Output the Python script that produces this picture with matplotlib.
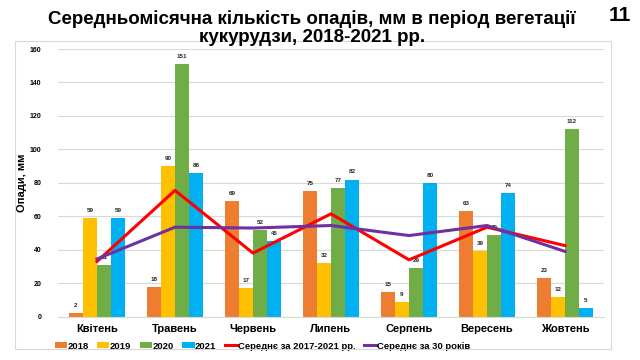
import numpy as np
import matplotlib.pyplot as plt
from matplotlib.patches import Rectangle, Patch
from matplotlib.lines import Line2D

plt.rcParams['font.family'] = ['Liberation Sans', 'DejaVu Sans']
plt.rcParams['font.weight'] = 'bold'

months = ['Квітень', 'Травень', 'Червень', 'Липень', 'Серпень', 'Вересень', 'Жовтень']
y2018 = [2, 18, 69, 75, 15, 63, 23]
y2019 = [59, 90, 17, 32, 9, 39, 12]
y2020 = [31, 151, 52, 77, 29, 49, 112]
y2021 = [59, 86, 45, 82, 80, 74, 5]
avg_2017_2021 = [33, 75.5, 38, 61.5, 34, 53.5, 42.5]
avg_30 = [34.5, 53.5, 53, 54.5, 48.5, 54.5, 39]

series = [('2018', y2018, '#ED7D31'), ('2019', y2019, '#FFC000'),
          ('2020', y2020, '#70AD47'), ('2021', y2021, '#00B0F0')]

fig = plt.figure(figsize=(6.4, 3.6), dpi=100)
fig.patches.append(Rectangle((15 / 640, 1 - 349 / 360), 596 / 640, 308 / 360,
                             transform=fig.transFigure, fill=False,
                             edgecolor='#D9D9D9', lw=0.8))
ax = fig.add_axes([58 / 640, 1 - 316.7 / 360, 546 / 640, 267.7 / 360])

x = np.arange(len(months))
w = 0.18
handles = []
for i, (name, vals, col) in enumerate(series):
    pos = x + (i - 1.5) * w
    ax.bar(pos, vals, w, color=col, zorder=2)
    handles.append(Patch(facecolor=col, label=name))
    for p, v in zip(pos, vals):
        ax.text(p, v + 3, str(v), ha='center', va='bottom', fontsize=4.5, color='#262626')

ax.plot(x, avg_2017_2021, color='#FF0000', lw=2.2, zorder=3)
ax.plot(x, avg_30, color='#7030A0', lw=2.2, zorder=3)
handles.append(Line2D([], [], color='#FF0000', lw=2.2, label='Середнє за 2017-2021 рр.'))
handles.append(Line2D([], [], color='#7030A0', lw=2.2, label='Середнє за 30 років'))

ax.set_ylim(0, 160)
ax.set_xlim(-0.5, 6.5)
ax.set_yticks(range(0, 161, 20))
ax.yaxis.grid(True, color='#D9D9D9', lw=0.8, zorder=0)
ax.set_axisbelow(True)
for s in ['top', 'right', 'left']:
    ax.spines[s].set_visible(False)
ax.spines['bottom'].set_color('#D9D9D9')
ax.tick_params(axis='y', length=0, labelsize=5, pad=12)
ax.tick_params(axis='x', length=0, labelsize=8, pad=5)
ax.set_xticks(x)
ax.set_xticklabels(months)
ax.set_ylabel('Опади, мм', fontsize=8, fontweight='bold', labelpad=2)

ax.legend(handles=handles, loc='center', bbox_to_anchor=(0.374, -0.11), ncol=6, frameon=False,
          fontsize=6.8, handlelength=1.3, handleheight=0.6, handletextpad=0.05,
          columnspacing=0.9)

fig.text(0.487, 0.922, 'Середньомісячна кількість опадів, мм в період вегетації\nкукурудзи, 2018-2021 рр.',
         ha='center', va='center', fontsize=13.5, fontweight='bold', linespacing=1.12)
fig.text(0.969, 0.958, '11', ha='center', va='center', fontsize=15, fontweight='bold')

fig.savefig('out.png', dpi=100)
